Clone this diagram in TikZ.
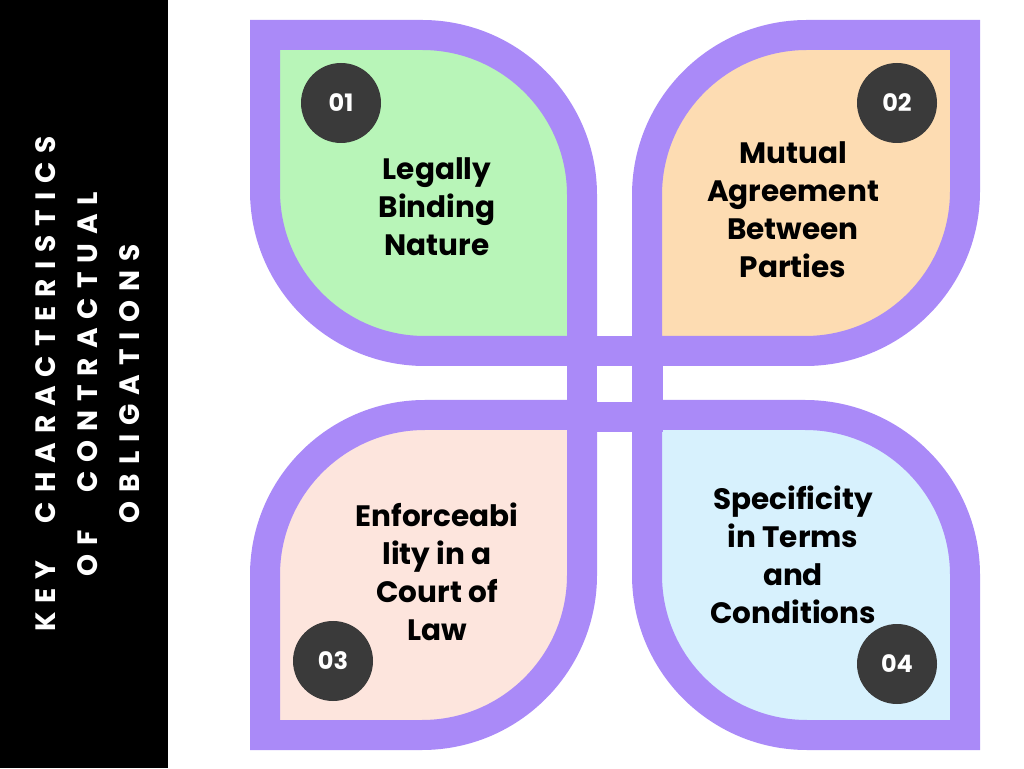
\documentclass[tikz,border=0pt]{standalone}
\usepackage{fontspec}
\setmainfont{Poppins}
\newfontfamily\headfont[LetterSpace=32,WordSpace=2.5]{Poppins}
\definecolor{petalline}{HTML}{AA8AF8}
\definecolor{numdisc}{HTML}{3A3A3A}
\definecolor{leafgreen}{HTML}{B8F5B8}
\definecolor{leaforange}{HTML}{FDDCB2}
\definecolor{leafpink}{HTML}{FDE5DD}
\definecolor{leafblue}{HTML}{D7F1FD}
\tikzset{
  petal/.style={draw=petalline, line width=30pt, line join=miter},
  disc/.style={circle, fill=numdisc, minimum size=80pt, text=white, font=\fontsize{24}{24}\selectfont\bfseries},
  label/.style={align=center, font=\fontsize{29.5}{38}\selectfont\bfseries, text=black},
  band/.style={fill=petalline}
}
\begin{document}
\begin{tikzpicture}[x=1pt,y=1pt]
	\useasboundingbox (0,0) rectangle (1024,768);
	\fill[black] (0,0) rectangle (168,768);
	
	% petals
	\draw[petal, fill=leafgreen] (265,733) -- (422,733) arc[start angle=90,end angle=0,radius=160] -- (582,417) -- (425,417) arc[start angle=270,end angle=180,radius=160] -- cycle;
	\draw[petal, fill=leaforange] (965,733) -- (965,577) arc[start angle=0,end angle=-90,radius=160] -- (647,417) -- (647,573) arc[start angle=180,end angle=90,radius=160] -- cycle;
	\draw[petal, fill=leafpink] (265,33) -- (265,193) arc[start angle=180,end angle=90,radius=160] -- (582,353) -- (582,193) arc[start angle=0,end angle=-90,radius=160] -- cycle;
	\draw[petal, fill=leafblue] (965,193) arc[start angle=0,end angle=90,radius=160] -- (647,353) -- (647,193) arc[start angle=180,end angle=270,radius=160] -- (965,33) -- cycle;
	
	% centre bands
	\fill[band] (567,336) rectangle (597,432);
	\fill[band] (632,336) rectangle (663,432);
	\fill[band] (567,402) rectangle (663,432);
	\fill[band] (567,336) rectangle (663,366);
	
	% numbers
	\node[disc] (n1) at (341,665) {01};
	\node[disc] (n2) at (897,665) {02};
	\node[disc] (n3) at (333,107) {03};
	\node[disc] (n4) at (897,104) {04};
	
	% texts
	\node[label] (t1) at (437,561) {Legally\\Binding\\Nature};
	\node[label] (t2) at (793,558) {Mutual\\Agreement\\Between\\Parties};
	\node[label] (t3) at (437,196) {Enforceabi\\lity in a\\Court of\\Law};
	\node[label] (t4) at (793,213) {Specificity\\in Terms\\and\\Conditions};
	
	\node[rotate=90, text=white, align=center, font=\headfont\fontsize{28}{42}\selectfont\bfseries] (title) at (88,384) {KEY CHARACTERISTICS\\OF CONTRACTUAL\\OBLIGATIONS};
\end{tikzpicture}
\end{document}
